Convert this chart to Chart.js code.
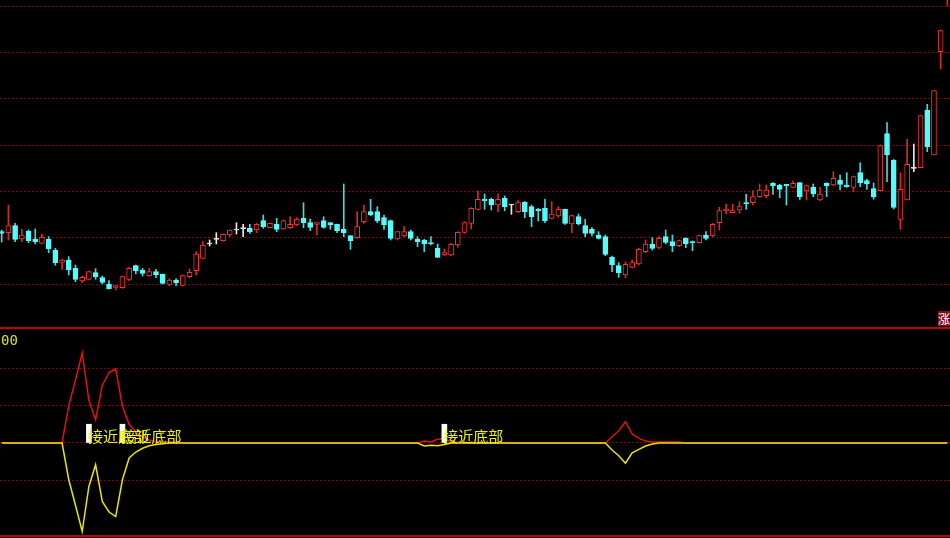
<!DOCTYPE html>
<html><head><meta charset="utf-8">
<script src="https://cdn.jsdelivr.net/npm/chart.js@4.4.0/dist/chart.umd.min.js"></script>
<style>
html,body{margin:0;padding:0;background:#000;width:950px;height:538px;overflow:hidden}
#top{position:absolute;left:0;top:0}
#bot{position:absolute;left:0;top:327px}
#tag{position:absolute;left:938px;top:311px;width:12px;height:15px;overflow:hidden;background:#7a1010;color:#fff;font:12px 'Noto Sans CJK SC';line-height:15px;white-space:nowrap}
</style></head><body>
<canvas id="top" width="950" height="327"></canvas>
<canvas id="bot" width="950" height="211"></canvas>
<div id="tag">涨停</div>
<script>
// ---- candlestick data (price units) ----
const openP  = [16.85,16.73,17.43,16.1,16.9,16.1,15.67,16.07,15.0,13.77,14.0,13.17,11.9,12.07,12.73,12.23,11.6,11.27,11.23,12.07,13.43,13.0,12.43,12.83,12.57,11.57,12.0,11.47,12.33,12.93,14.17,15.6,16.07,15.93,16.5,17.0,17.13,17.17,17.0,17.93,17.23,17.57,17.1,17.23,17.5,18.17,17.73,17.57,17.93,17.73,17.57,17.07,16.43,16.23,17.83,18.83,18.83,18.23,17.93,16.1,16.4,16.83,16.1,16.0,15.73,15.17,14.5,14.5,15.5,16.75,17.67,19.07,20.1,20.1,19.5,20.17,19.5,18.83,19.8,19.33,19.07,19.17,18.17,18.4,19.07,17.6,18.33,17.43,17.07,16.5,16.33,14.27,13.43,12.5,13.27,13.6,14.83,15.6,15.27,16.33,15.83,15.43,16.17,15.83,15.73,16.5,16.4,17.73,18.9,18.73,19.0,19.73,19.73,20.33,20.43,21.67,21.5,21.57,21.27,21.73,20.9,21.27,20.0,21.67,21.5,22.0,21.5,21.27,22.73,21.95,21.15,20.93,26.63,24.0,18.07,20.0,23.17,23.23,29.0,24.5,34.83,40.2];
const highP  = [17.0,19.5,17.67,17.07,17.0,17.1,16.57,16.33,15.17,14.1,14.33,13.5,12.4,12.9,13.13,12.4,11.93,11.43,12.4,13.23,13.5,13.17,13.17,13.07,12.6,12.13,12.13,12.5,13.1,14.83,15.83,16.0,16.73,16.6,17.0,17.73,17.57,17.57,17.67,18.5,17.67,18.17,18.0,18.33,18.23,19.73,18.1,17.73,18.33,17.73,17.6,21.6,16.43,18.83,19.5,20.07,19.33,18.5,18.0,16.83,17.33,17.0,16.33,16.07,16.33,15.6,15.1,15.67,16.83,17.83,19.23,20.9,20.6,20.17,20.6,20.4,19.57,19.93,19.83,19.5,19.17,20.07,19.83,19.33,19.1,18.5,18.6,18.07,17.23,16.83,16.5,14.4,13.73,13.83,14.0,15.17,16.0,16.23,16.33,17.0,16.5,16.0,16.23,15.9,16.5,16.83,17.67,19.27,19.6,19.6,19.83,20.57,20.93,21.6,21.5,21.73,21.57,21.57,21.9,21.73,21.5,21.6,21.27,21.73,22.83,22.5,22.73,22.4,23.73,22.07,21.7,25.5,27.73,24.05,22.73,26.07,25.6,28.43,29.57,30.93,37.0,42.8];
const lowP   = [15.8,16.0,15.83,15.83,15.73,15.6,15.6,14.73,13.47,13.07,12.5,11.83,11.73,12.0,12.07,11.6,11.1,11.0,11.17,11.93,12.6,12.4,12.4,12.23,11.6,11.43,11.43,11.4,12.23,12.5,14.1,15.4,15.6,15.9,16.33,16.6,16.33,16.67,16.73,17.17,17.23,16.83,17.07,17.17,17.43,17.23,16.93,16.5,17.17,17.07,16.73,16.33,15.07,16.17,17.67,18.43,17.73,17.07,16.0,16.0,16.33,16.0,15.33,14.83,15.5,14.27,14.43,14.4,15.27,16.67,17.1,19.0,19.07,19.0,18.83,18.93,18.57,18.77,18.23,17.33,17.9,17.73,18.1,18.27,17.57,16.73,17.5,16.33,16.4,16.1,14.43,12.83,12.27,12.23,13.2,13.5,14.73,15.0,15.1,15.6,14.83,15.33,15.23,14.93,15.7,16.0,16.33,17.0,18.6,18.73,18.67,19.07,19.5,20.27,20.23,20.57,20.23,19.5,21.27,20.07,20.0,20.33,19.93,20.33,21.43,21.0,21.27,20.83,21.33,21.07,20.07,20.9,21.83,19.1,17.07,20.0,22.83,23.23,24.83,24.5,33.1,39.4];
const closeP = [16.65,17.43,16.07,16.5,15.93,15.83,16.27,15.1,13.73,14.0,13.0,12.07,12.27,12.83,12.33,11.77,11.1,11.43,12.33,13.17,12.9,12.67,12.83,12.5,11.67,12.0,11.73,12.43,12.77,14.6,15.5,15.6,16.07,16.57,17.0,17.0,17.13,16.83,17.57,17.33,17.67,17.07,17.93,17.57,18.1,17.73,17.27,17.73,17.27,17.5,16.93,16.73,15.93,17.33,18.83,18.5,17.93,17.5,16.17,16.83,16.83,16.17,15.83,15.6,15.6,14.27,14.73,15.57,16.77,17.73,19.17,20.07,19.93,19.5,20.07,19.33,19.5,19.73,18.83,18.33,18.9,17.93,18.6,19.07,17.67,18.43,17.6,16.67,16.67,16.17,14.57,13.5,12.73,13.57,13.73,15.07,15.6,15.17,16.17,15.77,15.43,15.93,15.6,15.73,16.43,16.17,17.57,18.93,19.1,18.93,19.33,19.6,20.33,21.0,21.0,21.43,21.07,21.4,21.67,20.33,21.43,20.6,20.6,21.4,22.17,21.57,21.33,22.33,21.73,21.6,20.3,25.45,24.5,19.27,21.07,23.57,23.17,28.43,25.33,30.93,36.93,42.5];
const priceGrid = [39.4,34.77,30.13,25.5,20.87,16.23,11.6];

// ---- indicator data ----
const redLine = [0,0,0,0,0,0,0,0,0,0,50,84,120,57,31,77,94,99,49,25,15,7.5,4,2,1.5,1.5,1,0,0,0,0,0,0,0,0,0,0,0,0,0,0,0,0,0,0,0,0,0,0,0,0,0,0,0,0,0,0,0,0,0,0,0,0,2.7,1.3,5,5.5,1.5,1,0,0,0,0,0,0,0,0,0,0,0,0,0,0,0,0,0,0,0,0,0,0,8.4,16.4,28.4,12,6.2,2.7,1.3,1.3,1.3,1.3,1.3,0,0,0,0,0,0,0,0,0,0,0,0,0,0,0,0,0,0,0,0,0,0,0,0,0,0,0,0,0,0,0,0,0,0,0,0,0,0,0,0];
const yellowLine = [0,0,0,0,0,0,0,0,0,0,-49,-83,-118,-58,-29,-78,-92,-98,-49,-20,-12,-7,-3.6,-2,-1,0,0,0,0,0,0,0,0,0,0,0,0,0,0,0,0,0,0,0,0,0,0,0,0,0,0,0,0,0,0,0,0,0,0,0,0,0,0,-4,-3,-3.5,-2,0,0,0,0,0,0,0,0,0,0,0,0,0,0,0,0,0,0,0,0,0,0,0,0,-9.3,-17,-27,-13,-8.4,-4,-1.3,0,0,0,0,0,0,0,0,0,0,0,0,0,0,0,0,0,0,0,0,0,0,0,0,0,0,0,0,0,0,0,0,0,0,0,0,0,0,0,0,0,0,0,0,0,0,0,0];
const signalIdx = [13,18,66];
const signalHeight = [25,25,25];
const signalText = ['接近底部','接近底部','接近底部'];
const indGrid = [100,50,0,-50];

// ---- styles ----
const RED = '#ff3232', CYAN = '#54fcfc', WHITE = '#e8e8e8', GRID = '#8c0000';
const RED_W = '#d82828', CYAN_W = '#40dcdc';
const XMIN = -0.2535, XMAX = 141.39;
const idx = openP.map((_, i) => i);
const colorOf = i => closeP[i] > openP[i] ? RED : (closeP[i] < openP[i] ? CYAN : WHITE);
const wickOf = i => closeP[i] > openP[i] ? RED_W : (closeP[i] < openP[i] ? CYAN_W : WHITE);

const makeX = () => ({type:'linear', min:XMIN, max:XMAX, offset:false, display:false, bounds:'data'});
const gridY = (grid) => ({
  display:true,
  ticks:{display:false},
  grid:{color:GRID, drawTicks:false, lineWidth:1},
  border:{display:false, dash:[2,2]},
  afterBuildTicks: s => { s.ticks = grid.map(v => ({value:v})); }
});

new Chart(document.getElementById('top'), {
  type:'bar',
  data:{datasets:[
    {label:'body', data: idx.map(i => ({x:i, y:[openP[i], closeP[i]]})),
     backgroundColor: idx.map(i => closeP[i] > openP[i] ? '#000' : colorOf(i)),
     borderColor: idx.map(colorOf), borderWidth:1, borderSkipped:false,
     barThickness:5, minBarLength:1, grouped:false, order:0},
    {label:'wick', data: idx.map(i => ({x:i, y:[lowP[i], highP[i]]})),
     backgroundColor: idx.map(wickOf), borderWidth:0,
     barThickness:1, grouped:false, order:1}
  ]},
  options:{
    responsive:false, animation:false, events:[],
    layout:{padding:0},
    plugins:{legend:{display:false}, tooltip:{enabled:false}},
    scales:{ x: makeX(), y: Object.assign({min:7.3, max:40}, gridY(priceGrid)) }
  }
});

const botPlugin = {
  id:'botDeco',
  afterDatasetsDraw(chart){
    const ctx = chart.ctx, xs = chart.scales.x, ys = chart.scales.y;
    ctx.save();
    ctx.font = "15px 'Noto Sans CJK SC'";
    ctx.fillStyle = '#f0f000';
    ctx.textAlign = 'left';
    ctx.textBaseline = 'ideographic';
    signalIdx.forEach((s,k) => {
      ctx.fillText(signalText[k], xs.getPixelForValue(s) - 1, ys.getPixelForValue(0) + 1);
    });
    ctx.restore();
  },
  afterDraw(chart){
    const ctx = chart.ctx, a = chart.chartArea;
    ctx.save();
    ctx.strokeStyle = '#c00000';
    ctx.lineWidth = 2;
    ctx.beginPath();
    ctx.moveTo(a.left, a.top + 1); ctx.lineTo(a.right, a.top + 1);
    ctx.moveTo(a.left, a.bottom - 2); ctx.lineTo(a.right, a.bottom - 2);
    ctx.stroke();
    ctx.font = "14px 'DejaVu Sans Mono'";
    ctx.fillStyle = '#e0e000';
    ctx.textBaseline = 'alphabetic';
    ctx.fillText('00', a.left + 1, a.top + 18);
    ctx.restore();
  }
};

new Chart(document.getElementById('bot'), {
  type:'line',
  data:{datasets:[
    {type:'bar', label:'stick', data: signalIdx.map((s,k) => ({x:s, y:[0, signalHeight[k]]})),
     backgroundColor:'#ffffff', barThickness:5, grouped:false, order:0},
    {label:'yellow', data: idx.map(i => ({x:i, y:yellowLine[i]})), borderColor:'#e6e600',
     borderWidth:1.5, pointRadius:0, tension:0, order:1},
    {label:'red', data: idx.map(i => ({x:i, y:redLine[i]})), borderColor:'#e01010',
     borderWidth:1.5, pointRadius:0, tension:0, order:2}
  ]},
  options:{
    responsive:false, animation:false, events:[],
    layout:{padding:0},
    plugins:{legend:{display:false}, tooltip:{enabled:false}},
    scales:{ x: makeX(), y: Object.assign({min:-126.67, max:154.67}, gridY(indGrid)) }
  },
  plugins:[botPlugin]
});
</script>
</body></html>
